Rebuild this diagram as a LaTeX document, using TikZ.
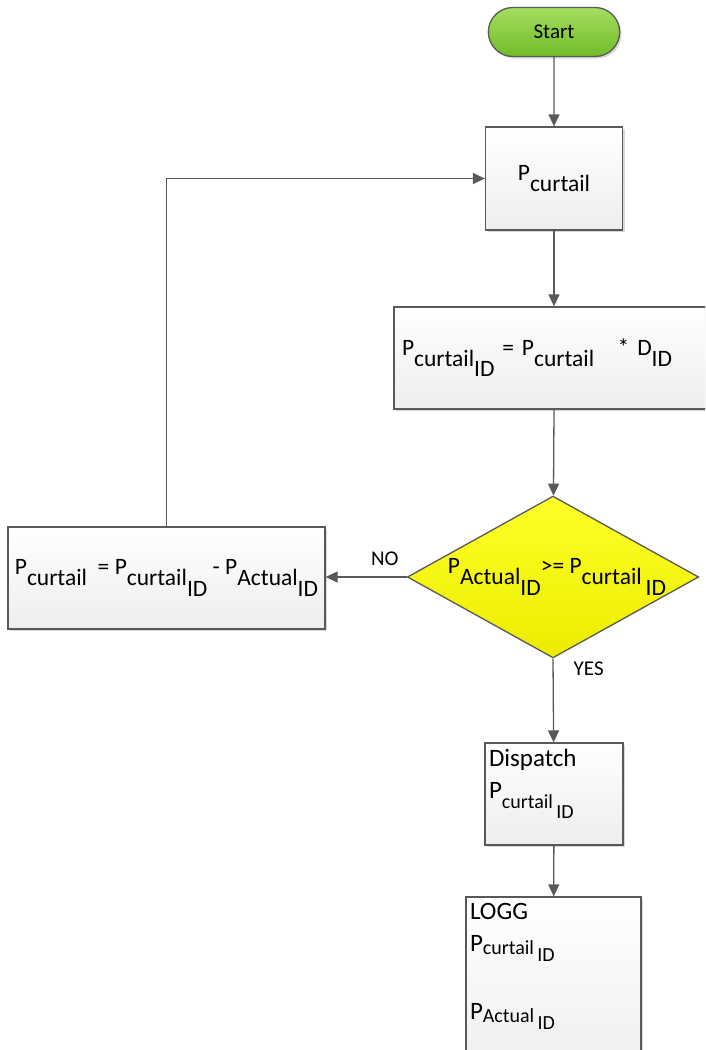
\documentclass[tikz,border=0pt]{standalone}
\usepackage{fontspec}
\setmainfont{Carlito}
\usepackage{tikz}
\usetikzlibrary{positioning, arrows.meta, shapes.geometric, shapes.misc, shadows}

\definecolor{lineGray}{RGB}{89,89,89}
\definecolor{boxLow}{RGB}{238,238,238}
\definecolor{startTop}{RGB}{165,222,95}
\definecolor{startLow}{RGB}{112,188,40}
\definecolor{decTop}{RGB}{255,255,40}
\definecolor{decLow}{RGB}{236,236,0}

% lowered text, same size / smaller
\newcommand{\lo}[2][0.45em]{\raisebox{-#1}{#2}}
\newcommand{\los}[2][0.4em]{\raisebox{-#1}{\fontsize{20}{24}\selectfont #2}}

\begin{document}
\begin{tikzpicture}[x=1pt, y=-1pt,
    box/.style={draw=lineGray, line width=1.3pt, top color=white, bottom color=boxLow, align=center,
        font=\fontsize{23.5}{28}\selectfont,
        drop shadow={shadow xshift=2pt, shadow yshift=-2pt, fill=black!30, opacity=.5}},
    terminal/.style={rounded rectangle, draw=lineGray, line width=1.3pt, top color=startTop, bottom color=startLow,
        minimum width=138pt, minimum height=49pt, font=\fontsize{21}{24}\selectfont,
        drop shadow={shadow xshift=2pt, shadow yshift=-2pt, fill=black!30, opacity=.5}},
    decision/.style={diamond, draw=lineGray, line width=1.3pt, top color=decTop, bottom color=decLow,
        aspect=1.8, inner sep=0pt, minimum width=289pt, minimum height=160pt, font=\fontsize{23.5}{28}\selectfont},
    arr/.style={-{Triangle[length=12pt, width=11pt]}, draw=lineGray, line width=1.3pt},
    lbl/.style={font=\fontsize{21}{24}\selectfont, inner sep=2pt}
]
\useasboundingbox (0,0) rectangle (705,1050);
\clip (0,0) rectangle (705,1050);
% Start terminal
\node[terminal] (start) at (554,32) {Start};
% curtailment power
\node[box, minimum width=137pt, minimum height=103pt] (pcur) at (554,178.5) {P\lo{curtail}};
% curtailment per ID, runs past the right edge
\node[box, minimum width=320pt, minimum height=102pt, text width=304pt, align=left, inner xsep=8pt] (pcurid) at (554,358)
    {P\lo{curtail\lo{ID}} = P\lo{curtail}\ \ \ * D\lo{ID}};
% check actual against curtailment
\node[decision] (check) at (553,577) {\hspace*{8pt}P\lo{Actual\lo{ID}}>= P\lo{curtail\,\lo{ID}}};
% remaining curtailment
\node[box, minimum width=317pt, minimum height=102pt] (rest) at (166.5,578)
    {P\lo{curtail}\ \ = P\lo{curtail\lo{ID}} - P\lo{Actual\lo{ID}}};
% dispatch
\node[box, minimum width=138pt, minimum height=102pt, inner sep=0pt] (disp) at (554,794)
    {\begin{minipage}[c][102pt][t]{130pt}\fontsize{25}{32}\selectfont\raggedright
     \vspace*{6pt}Dispatch\\
     P\los{curtail\,\los[0.5em]{ID}}\end{minipage}};
% logging, runs past the bottom edge
\node[box, minimum width=175pt, minimum height=180pt, inner sep=0pt] (logg) at (553.5,987)
    {\begin{minipage}[c][180pt][t]{167pt}\fontsize{25}{32}\selectfont\raggedright
     \vspace*{6pt}LOGG\\
     P\los[0.15em]{curtail\,\los[0.35em]{ID}}\\[36pt]
     P\los[0.15em]{Actual\,\los[0.35em]{ID}}\end{minipage}};
% connectors
\draw[arr] (start) -- (pcur);
\draw[arr] (pcur) -- (pcur.south |- pcurid.north);
\draw[arr] (pcur.south |- pcurid.south) -- (check);
\draw[arr] (check.west) -- node[lbl, pos=0.27, above=9pt]{NO} (rest.east |- check.west);
\draw[arr] (check.south) -- node[lbl, pos=0.12, right=18pt]{YES} (disp);
\draw[arr] (disp) -- (logg);
\draw[arr] (rest.north) |- (pcur.west);
\end{tikzpicture}
\end{document}
